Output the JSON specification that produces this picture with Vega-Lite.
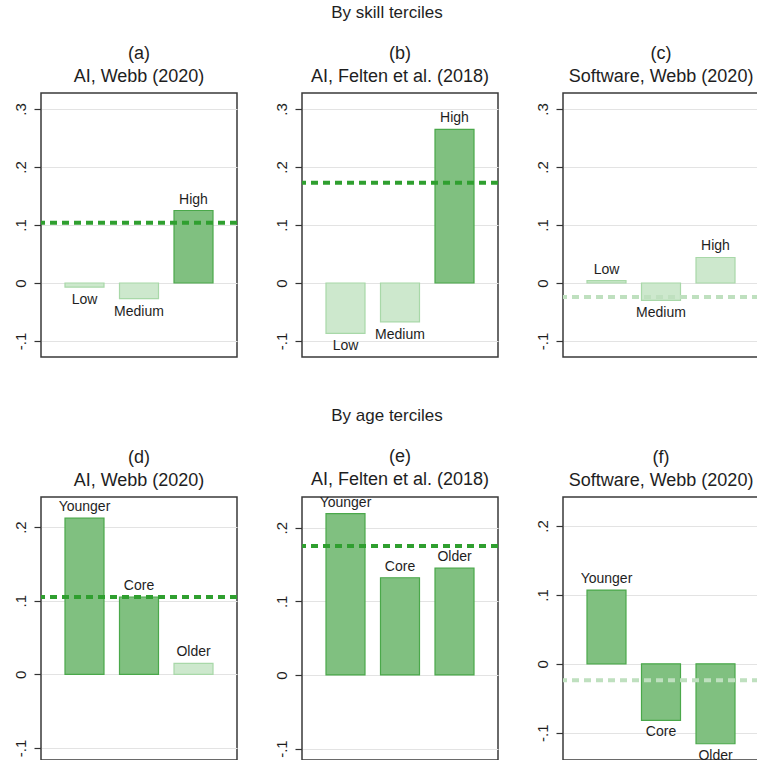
{
  "$schema": "https://vega.github.io/schema/vega-lite/v6.json",
  "padding": {"left": 12, "top": 4, "right": 0, "bottom": 0},
  "background": "white",
  "datasets": {
    "bars": [
      {"panel": "a", "group": "Low", "effect": -0.007, "significant": "no"},
      {"panel": "a", "group": "Medium", "effect": -0.027, "significant": "no"},
      {"panel": "a", "group": "High", "effect": 0.125, "significant": "yes"},
      {"panel": "b", "group": "Low", "effect": -0.087, "significant": "no"},
      {"panel": "b", "group": "Medium", "effect": -0.067, "significant": "no"},
      {"panel": "b", "group": "High", "effect": 0.265, "significant": "yes"},
      {"panel": "c", "group": "Low", "effect": 0.004, "significant": "no"},
      {"panel": "c", "group": "Medium", "effect": -0.030, "significant": "no"},
      {"panel": "c", "group": "High", "effect": 0.044, "significant": "no"},
      {"panel": "d", "group": "Younger", "effect": 0.212, "significant": "yes"},
      {"panel": "d", "group": "Core", "effect": 0.105, "significant": "yes"},
      {"panel": "d", "group": "Older", "effect": 0.015, "significant": "no"},
      {"panel": "e", "group": "Younger", "effect": 0.219, "significant": "yes"},
      {"panel": "e", "group": "Core", "effect": 0.132, "significant": "yes"},
      {"panel": "e", "group": "Older", "effect": 0.145, "significant": "yes"},
      {"panel": "f", "group": "Younger", "effect": 0.107, "significant": "yes"},
      {"panel": "f", "group": "Core", "effect": -0.082, "significant": "yes"},
      {"panel": "f", "group": "Older", "effect": -0.116, "significant": "yes"}
    ],
    "overall": [
      {"panel": "a", "effect": 0.104, "significant": "yes"},
      {"panel": "b", "effect": 0.173, "significant": "yes"},
      {"panel": "c", "effect": -0.024, "significant": "no"},
      {"panel": "d", "effect": 0.105, "significant": "yes"},
      {"panel": "e", "effect": 0.175, "significant": "yes"},
      {"panel": "f", "effect": -0.024, "significant": "no"}
    ]
  },
  "vconcat": [
    {
      "title": {"text": "By skill terciles", "anchor": "middle", "fontSize": 17, "offset": 22},
      "spacing": 33,
      "hconcat": [
        {
          "title": {"text": ["(a)", "AI, Webb (2020)"]},
          "width": 196, "height": 264,
          "layer": [
            {"data": {"name": "bars"}, "transform": [{"filter": "datum.panel === 'a'"}], "mark": {"type": "bar", "width": 39, "strokeWidth": 1.2},
             "encoding": {"x": {"field": "group", "type": "nominal", "sort": ["Low", "Medium", "High"], "scale": {"paddingInner": 0.29, "paddingOuter": 0.443}, "axis": null},
               "y": {"field": "effect", "type": "quantitative", "scale": {"domain": [-0.1276, 0.3276], "nice": false, "zero": false}, "axis": {"values": [-0.1, 0, 0.1, 0.2, 0.3]}},
               "y2": {"datum": 0},
               "fill": {"field": "significant", "type": "nominal", "scale": {"domain": ["yes", "no"], "range": ["#80c080", "#cde8cd"]}},
               "stroke": {"field": "significant", "type": "nominal", "scale": {"domain": ["yes", "no"], "range": ["#4aa84a", "#a8d8a8"]}}}},
            {"mark": {"type": "rule", "color": "#5cb85c", "strokeWidth": 1.5}, "encoding": {"y": {"datum": 0}}},
            {"data": {"name": "overall"}, "transform": [{"filter": "datum.panel === 'a'"}], "mark": {"type": "rule", "strokeDash": [7, 5], "strokeWidth": 4},
             "encoding": {"y": {"field": "effect", "type": "quantitative"}, "color": {"field": "significant", "type": "nominal", "scale": {"domain": ["yes", "no"], "range": ["#2f9f2f", "#bfe0bf"]}}}},
            {"data": {"name": "bars"}, "transform": [{"filter": "datum.panel === 'a' && datum.effect >= 0"}], "mark": {"type": "text", "baseline": "bottom", "dy": -4},
             "encoding": {"x": {"field": "group", "type": "nominal", "sort": ["Low", "Medium", "High"]}, "y": {"field": "effect", "type": "quantitative"}, "text": {"field": "group"}}},
            {"data": {"name": "bars"}, "transform": [{"filter": "datum.panel === 'a' && datum.effect < 0"}], "mark": {"type": "text", "baseline": "top", "dy": 6},
             "encoding": {"x": {"field": "group", "type": "nominal", "sort": ["Low", "Medium", "High"]}, "y": {"field": "effect", "type": "quantitative"}, "text": {"field": "group"}}}
          ]
        },
        {
          "title": {"text": ["(b)", "AI, Felten et al. (2018)"]},
          "width": 196, "height": 264,
          "layer": [
            {"data": {"name": "bars"}, "transform": [{"filter": "datum.panel === 'b'"}], "mark": {"type": "bar", "width": 39, "strokeWidth": 1.2},
             "encoding": {"x": {"field": "group", "type": "nominal", "sort": ["Low", "Medium", "High"], "scale": {"paddingInner": 0.29, "paddingOuter": 0.443}, "axis": null},
               "y": {"field": "effect", "type": "quantitative", "scale": {"domain": [-0.1276, 0.3276], "nice": false, "zero": false}, "axis": {"values": [-0.1, 0, 0.1, 0.2, 0.3]}},
               "y2": {"datum": 0},
               "fill": {"field": "significant", "type": "nominal", "scale": {"domain": ["yes", "no"], "range": ["#80c080", "#cde8cd"]}},
               "stroke": {"field": "significant", "type": "nominal", "scale": {"domain": ["yes", "no"], "range": ["#4aa84a", "#a8d8a8"]}}}},
            {"mark": {"type": "rule", "color": "#5cb85c", "strokeWidth": 1.5}, "encoding": {"y": {"datum": 0}}},
            {"data": {"name": "overall"}, "transform": [{"filter": "datum.panel === 'b'"}], "mark": {"type": "rule", "strokeDash": [7, 5], "strokeWidth": 4},
             "encoding": {"y": {"field": "effect", "type": "quantitative"}, "color": {"field": "significant", "type": "nominal", "scale": {"domain": ["yes", "no"], "range": ["#2f9f2f", "#bfe0bf"]}}}},
            {"data": {"name": "bars"}, "transform": [{"filter": "datum.panel === 'b' && datum.effect >= 0"}], "mark": {"type": "text", "baseline": "bottom", "dy": -4},
             "encoding": {"x": {"field": "group", "type": "nominal", "sort": ["Low", "Medium", "High"]}, "y": {"field": "effect", "type": "quantitative"}, "text": {"field": "group"}}},
            {"data": {"name": "bars"}, "transform": [{"filter": "datum.panel === 'b' && datum.effect < 0"}], "mark": {"type": "text", "baseline": "top", "dy": 6},
             "encoding": {"x": {"field": "group", "type": "nominal", "sort": ["Low", "Medium", "High"]}, "y": {"field": "effect", "type": "quantitative"}, "text": {"field": "group"}}}
          ]
        },
        {
          "title": {"text": ["(c)", "Software, Webb (2020)"]},
          "width": 196, "height": 264,
          "layer": [
            {"data": {"name": "bars"}, "transform": [{"filter": "datum.panel === 'c'"}], "mark": {"type": "bar", "width": 39, "strokeWidth": 1.2},
             "encoding": {"x": {"field": "group", "type": "nominal", "sort": ["Low", "Medium", "High"], "scale": {"paddingInner": 0.29, "paddingOuter": 0.443}, "axis": null},
               "y": {"field": "effect", "type": "quantitative", "scale": {"domain": [-0.1276, 0.3276], "nice": false, "zero": false}, "axis": {"values": [-0.1, 0, 0.1, 0.2, 0.3]}},
               "y2": {"datum": 0},
               "fill": {"field": "significant", "type": "nominal", "scale": {"domain": ["yes", "no"], "range": ["#80c080", "#cde8cd"]}},
               "stroke": {"field": "significant", "type": "nominal", "scale": {"domain": ["yes", "no"], "range": ["#4aa84a", "#a8d8a8"]}}}},
            {"mark": {"type": "rule", "color": "#5cb85c", "strokeWidth": 1.5}, "encoding": {"y": {"datum": 0}}},
            {"data": {"name": "overall"}, "transform": [{"filter": "datum.panel === 'c'"}], "mark": {"type": "rule", "strokeDash": [7, 5], "strokeWidth": 4},
             "encoding": {"y": {"field": "effect", "type": "quantitative"}, "color": {"field": "significant", "type": "nominal", "scale": {"domain": ["yes", "no"], "range": ["#2f9f2f", "#bfe0bf"]}}}},
            {"data": {"name": "bars"}, "transform": [{"filter": "datum.panel === 'c' && datum.effect >= 0"}], "mark": {"type": "text", "baseline": "bottom", "dy": -4},
             "encoding": {"x": {"field": "group", "type": "nominal", "sort": ["Low", "Medium", "High"]}, "y": {"field": "effect", "type": "quantitative"}, "text": {"field": "group"}}},
            {"data": {"name": "bars"}, "transform": [{"filter": "datum.panel === 'c' && datum.effect < 0"}], "mark": {"type": "text", "baseline": "top", "dy": 6},
             "encoding": {"x": {"field": "group", "type": "nominal", "sort": ["Low", "Medium", "High"]}, "y": {"field": "effect", "type": "quantitative"}, "text": {"field": "group"}}}
          ]
        }
      ]
    },
    {
      "title": {"text": "By age terciles", "anchor": "middle", "fontSize": 17, "offset": 22},
      "spacing": 33,
      "hconcat": [
        {
          "title": {"text": ["(d)", "AI, Webb (2020)"]},
          "width": 196, "height": 263,
          "layer": [
            {"data": {"name": "bars"}, "transform": [{"filter": "datum.panel === 'd'"}], "mark": {"type": "bar", "width": 39, "strokeWidth": 1.2},
             "encoding": {"x": {"field": "group", "type": "nominal", "sort": ["Younger", "Core", "Older"], "scale": {"paddingInner": 0.29, "paddingOuter": 0.443}, "axis": null},
               "y": {"field": "effect", "type": "quantitative", "scale": {"domain": [-0.1163, 0.2408], "nice": false, "zero": false}, "axis": {"values": [-0.1, 0, 0.1, 0.2]}},
               "y2": {"datum": 0},
               "fill": {"field": "significant", "type": "nominal", "scale": {"domain": ["yes", "no"], "range": ["#80c080", "#cde8cd"]}},
               "stroke": {"field": "significant", "type": "nominal", "scale": {"domain": ["yes", "no"], "range": ["#4aa84a", "#a8d8a8"]}}}},
            {"mark": {"type": "rule", "color": "#5cb85c", "strokeWidth": 1.5}, "encoding": {"y": {"datum": 0}}},
            {"data": {"name": "overall"}, "transform": [{"filter": "datum.panel === 'd'"}], "mark": {"type": "rule", "strokeDash": [7, 5], "strokeWidth": 4},
             "encoding": {"y": {"field": "effect", "type": "quantitative"}, "color": {"field": "significant", "type": "nominal", "scale": {"domain": ["yes", "no"], "range": ["#2f9f2f", "#bfe0bf"]}}}},
            {"data": {"name": "bars"}, "transform": [{"filter": "datum.panel === 'd' && datum.effect >= 0"}], "mark": {"type": "text", "baseline": "bottom", "dy": -4},
             "encoding": {"x": {"field": "group", "type": "nominal", "sort": ["Younger", "Core", "Older"]}, "y": {"field": "effect", "type": "quantitative"}, "text": {"field": "group"}}},
            {"data": {"name": "bars"}, "transform": [{"filter": "datum.panel === 'd' && datum.effect < 0"}], "mark": {"type": "text", "baseline": "top", "dy": 6},
             "encoding": {"x": {"field": "group", "type": "nominal", "sort": ["Younger", "Core", "Older"]}, "y": {"field": "effect", "type": "quantitative"}, "text": {"field": "group"}}}
          ]
        },
        {
          "title": {"text": ["(e)", "AI, Felten et al. (2018)"]},
          "width": 196, "height": 263,
          "layer": [
            {"data": {"name": "bars"}, "transform": [{"filter": "datum.panel === 'e'"}], "mark": {"type": "bar", "width": 39, "strokeWidth": 1.2},
             "encoding": {"x": {"field": "group", "type": "nominal", "sort": ["Younger", "Core", "Older"], "scale": {"paddingInner": 0.29, "paddingOuter": 0.443}, "axis": null},
               "y": {"field": "effect", "type": "quantitative", "scale": {"domain": [-0.1155, 0.2417], "nice": false, "zero": false}, "axis": {"values": [-0.1, 0, 0.1, 0.2]}},
               "y2": {"datum": 0},
               "fill": {"field": "significant", "type": "nominal", "scale": {"domain": ["yes", "no"], "range": ["#80c080", "#cde8cd"]}},
               "stroke": {"field": "significant", "type": "nominal", "scale": {"domain": ["yes", "no"], "range": ["#4aa84a", "#a8d8a8"]}}}},
            {"mark": {"type": "rule", "color": "#5cb85c", "strokeWidth": 1.5}, "encoding": {"y": {"datum": 0}}},
            {"data": {"name": "overall"}, "transform": [{"filter": "datum.panel === 'e'"}], "mark": {"type": "rule", "strokeDash": [7, 5], "strokeWidth": 4},
             "encoding": {"y": {"field": "effect", "type": "quantitative"}, "color": {"field": "significant", "type": "nominal", "scale": {"domain": ["yes", "no"], "range": ["#2f9f2f", "#bfe0bf"]}}}},
            {"data": {"name": "bars"}, "transform": [{"filter": "datum.panel === 'e' && datum.effect >= 0"}], "mark": {"type": "text", "baseline": "bottom", "dy": -4},
             "encoding": {"x": {"field": "group", "type": "nominal", "sort": ["Younger", "Core", "Older"]}, "y": {"field": "effect", "type": "quantitative"}, "text": {"field": "group"}}},
            {"data": {"name": "bars"}, "transform": [{"filter": "datum.panel === 'e' && datum.effect < 0"}], "mark": {"type": "text", "baseline": "top", "dy": 6},
             "encoding": {"x": {"field": "group", "type": "nominal", "sort": ["Younger", "Core", "Older"]}, "y": {"field": "effect", "type": "quantitative"}, "text": {"field": "group"}}}
          ]
        },
        {
          "title": {"text": ["(f)", "Software, Webb (2020)"]},
          "width": 196, "height": 263,
          "layer": [
            {"data": {"name": "bars"}, "transform": [{"filter": "datum.panel === 'f'"}], "mark": {"type": "bar", "width": 39, "strokeWidth": 1.2},
             "encoding": {"x": {"field": "group", "type": "nominal", "sort": ["Younger", "Core", "Older"], "scale": {"paddingInner": 0.29, "paddingOuter": 0.443}, "axis": null},
               "y": {"field": "effect", "type": "quantitative", "scale": {"domain": [-0.1396, 0.2421], "nice": false, "zero": false}, "axis": {"values": [-0.1, 0, 0.1, 0.2]}},
               "y2": {"datum": 0},
               "fill": {"field": "significant", "type": "nominal", "scale": {"domain": ["yes", "no"], "range": ["#80c080", "#cde8cd"]}},
               "stroke": {"field": "significant", "type": "nominal", "scale": {"domain": ["yes", "no"], "range": ["#4aa84a", "#a8d8a8"]}}}},
            {"mark": {"type": "rule", "color": "#5cb85c", "strokeWidth": 1.5}, "encoding": {"y": {"datum": 0}}},
            {"data": {"name": "overall"}, "transform": [{"filter": "datum.panel === 'f'"}], "mark": {"type": "rule", "strokeDash": [7, 5], "strokeWidth": 4},
             "encoding": {"y": {"field": "effect", "type": "quantitative"}, "color": {"field": "significant", "type": "nominal", "scale": {"domain": ["yes", "no"], "range": ["#2f9f2f", "#bfe0bf"]}}}},
            {"data": {"name": "bars"}, "transform": [{"filter": "datum.panel === 'f' && datum.effect >= 0"}], "mark": {"type": "text", "baseline": "bottom", "dy": -4},
             "encoding": {"x": {"field": "group", "type": "nominal", "sort": ["Younger", "Core", "Older"]}, "y": {"field": "effect", "type": "quantitative"}, "text": {"field": "group"}}},
            {"data": {"name": "bars"}, "transform": [{"filter": "datum.panel === 'f' && datum.effect < 0"}], "mark": {"type": "text", "baseline": "top", "dy": 5},
             "encoding": {"x": {"field": "group", "type": "nominal", "sort": ["Younger", "Core", "Older"]}, "y": {"field": "effect", "type": "quantitative"}, "text": {"field": "group"}}}
          ]
        }
      ]
    }
  ],
  "spacing": 48,
  "config": {
    "font": "Liberation Sans",
    "view": {"stroke": "#3a3a3a", "strokeWidth": 1.5},
    "legend": {"disable": true},
    "title": {"fontSize": 18, "fontWeight": "normal", "color": "#1e1e1e", "lineHeight": 23, "offset": 7, "anchor": "middle"},
    "text": {"fontSize": 14, "color": "#1e1e1e"},
    "axisY": {
      "domain": false,
      "grid": true,
      "gridColor": "#e3e3e3",
      "gridWidth": 1,
      "ticks": true,
      "tickSize": 7,
      "tickColor": "#333333",
      "tickWidth": 1.2,
      "labelAngle": -90,
      "labelFontSize": 15,
      "labelColor": "#1e1e1e",
      "labelPadding": 6,
      "title": null,
      "labelExpr": "datum.value === 0 ? '0' : (datum.value < 0 ? '-' : '') + '.' + round(abs(datum.value) * 10)"
    }
  }
}
